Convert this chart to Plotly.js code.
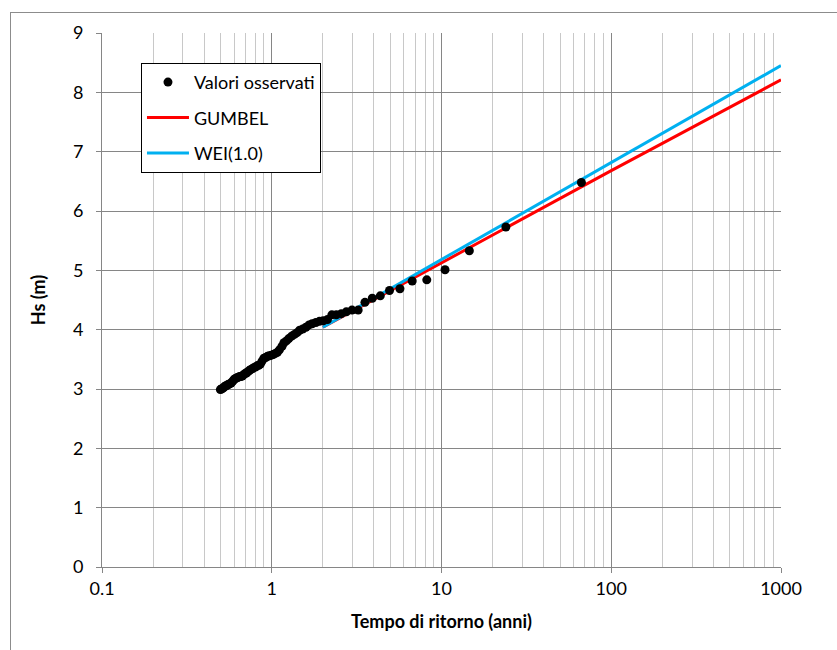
<!DOCTYPE html>
<html>
<head>
<meta charset="utf-8">
<script src="https://cdn.plot.ly/plotly-3.0.1.min.js"></script>
<style>
  html, body { margin: 0; padding: 0; background: #fff; overflow: hidden; }
  #chart { width: 837px; height: 650px; position: absolute; left: 0; top: 0; }
  #frame { position: absolute; left: 10px; top: 12px; width: 900px; height: 700px;
           border: 1px solid #8c8c8c; pointer-events: none; }
</style>
</head>
<body>
<div id="chart"></div>
<div id="frame"></div>
<script>
// Observed values: return period (years) and Hs (m)
const obsT = [66.70, 23.94, 14.59, 10.49, 8.19, 6.72, 5.69, 4.94, 4.36, 3.91,
              3.54, 3.23, 2.97, 2.75, 2.57, 2.40, 2.26, 2.13, 2.01, 1.91,
              1.82, 1.73, 1.66, 1.59, 1.52, 1.46, 1.41, 1.36, 1.31, 1.26,
              1.22, 1.18, 1.15, 1.11, 1.08, 1.05, 1.02, 0.995, 0.969, 0.944,
              0.921, 0.899, 0.877, 0.857, 0.838, 0.819, 0.801, 0.784, 0.768, 0.753,
              0.738, 0.723, 0.709, 0.696, 0.683, 0.670, 0.658, 0.647, 0.636, 0.625,
              0.615, 0.605, 0.595, 0.585, 0.576, 0.567, 0.559, 0.550, 0.542, 0.534,
              0.527, 0.519, 0.512, 0.505, 0.498];
const obsHs = [6.48, 5.73, 5.33, 5.01, 4.84, 4.82, 4.69, 4.66, 4.57, 4.53,
               4.46, 4.33, 4.33, 4.30, 4.27, 4.25, 4.25, 4.17, 4.15, 4.14,
               4.12, 4.10, 4.08, 4.04, 4.01, 3.99, 3.95, 3.92, 3.89, 3.85,
               3.81, 3.78, 3.72, 3.66, 3.62, 3.60, 3.58, 3.57, 3.56, 3.55,
               3.53, 3.52, 3.47, 3.42, 3.40, 3.39, 3.37, 3.36, 3.34, 3.33,
               3.31, 3.29, 3.27, 3.26, 3.24, 3.22, 3.21, 3.21, 3.20, 3.19,
               3.18, 3.17, 3.15, 3.12, 3.10, 3.09, 3.08, 3.07, 3.06, 3.05,
               3.04, 3.02, 3.01, 3.00, 2.99];

// Fitted distributions
const fitT      = [2, 5, 10, 20, 50, 100, 200, 500, 1000];
const gumbelHs  = [4.04, 4.66, 5.12, 5.60, 6.22, 6.68, 7.14, 7.75, 8.21];
const weiHs     = [4.04, 4.69, 5.18, 5.67, 6.32, 6.81, 7.30, 7.96, 8.45];

const xTickVals = [0.1, 1, 10, 100, 1000];
const xTickText = ['0.1', '1', '10', '100', '1000'];

const FONT = 'Lato, "Open Sans", "DejaVu Sans", sans-serif';

const traces = [
  { x: obsT, y: obsHs, type: 'scatter', mode: 'markers', name: 'Valori osservati',
    marker: { color: '#000000', size: 9 }, legendgroup: 'a', legendrank: 1 },
  { x: fitT, y: gumbelHs, type: 'scatter', mode: 'lines', name: 'GUMBEL',
    line: { color: '#FF0000', width: 3 }, legendgroup: 'b', legendrank: 2 },
  { x: fitT, y: weiHs, type: 'scatter', mode: 'lines', name: 'WEI(1.0)',
    line: { color: '#00B0F0', width: 3 }, legendgroup: 'c', legendrank: 3 }
];
// draw observed points on top
const plotOrder = [traces[1], traces[2], traces[0]];

const layout = {
  width: 837, height: 650,
  margin: { l: 102, r: 56, t: 33, b: 83, pad: 0 },
  paper_bgcolor: 'rgba(0,0,0,0)',
  plot_bgcolor: '#ffffff',
  font: { family: FONT, size: 18, color: '#000' },
  showlegend: true,
  legend: {
    x: 0.0574, y: 0.944, xanchor: 'left', yanchor: 'top',
    bgcolor: '#ffffff', bordercolor: '#000000', borderwidth: 1,
    font: { family: FONT, size: 18, color: '#000' },
    tracegroupgap: 9, traceorder: 'grouped', itemwidth: 42
  },
  xaxis: {
    type: 'log', range: [-1, 3],
    tickvals: xTickVals, ticktext: xTickText,
    showgrid: true, gridcolor: '#868686', gridwidth: 1,
    minor: { dtick: 'D1', showgrid: true, gridcolor: '#c8c8c8', gridwidth: 1, ticks: '' },
    showline: true, linecolor: '#868686', linewidth: 1,
    ticks: 'outside', ticklen: 5, tickcolor: '#868686',
    tickfont: { family: FONT, size: 18, color: '#000' },
    zeroline: false,
    title: { text: '<b>Tempo di ritorno (anni)</b>', font: { family: FONT, size: 18, color: '#000' }, standoff: 17 }
  },
  yaxis: {
    range: [0, 9], dtick: 1,
    showgrid: true, gridcolor: '#868686', gridwidth: 1,
    showline: true, linecolor: '#868686', linewidth: 1,
    ticks: 'outside', ticklen: 5, tickcolor: '#868686',
    ticklabelstandoff: 9,
    tickfont: { family: FONT, size: 18, color: '#000' },
    zeroline: false,
    title: { text: '<b>Hs (m)</b>', font: { family: FONT, size: 18, color: '#000' }, standoff: 22 }
  }
};

Plotly.newPlot('chart', plotOrder, layout, { displayModeBar: false, staticPlot: true });
</script>
</body>
</html>
